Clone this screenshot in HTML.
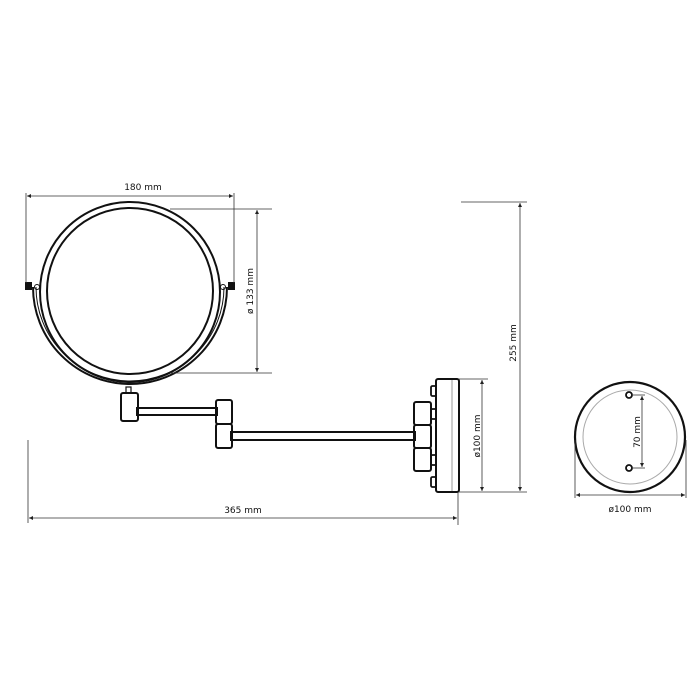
<!DOCTYPE html>
<html><head><meta charset="utf-8"><style>
html,body{margin:0;padding:0;background:#fff;width:700px;height:700px;overflow:hidden}
svg{display:block}
text{font-family:"DejaVu Sans","Liberation Sans",sans-serif;font-size:9px;fill:#111}
</style></head><body>
<svg width="700" height="700" viewBox="0 0 700 700">
<defs>
<marker id="a" viewBox="0 0 6 6" refX="6" refY="3" markerWidth="5" markerHeight="5" orient="auto-start-reverse"><path d="M0,0L6,3L0,6z" fill="#222"/></marker>
</defs>
<g fill="none" stroke="#111">
<!-- mirror -->
<circle cx="130" cy="292" r="90" stroke-width="2"/>
<circle cx="130" cy="291" r="83" stroke-width="2"/>
<path d="M33,287 A97,97 0 0 0 227,287" stroke-width="2"/>
<path d="M36,287 A94,94 0 0 0 224,287" stroke-width="1"/>
<rect x="25" y="282" width="7" height="8" fill="#111" stroke="none"/>
<rect x="228" y="282" width="7" height="8" fill="#111" stroke="none"/>
<circle cx="37" cy="287" r="2.5" stroke-width="1"/>
<circle cx="223" cy="287" r="2.5" stroke-width="1"/>
<!-- arm -->
<rect x="126" y="387" width="5" height="6" stroke-width="1.2"/>
<rect x="121" y="393" width="17" height="28" rx="2" stroke-width="2"/>
<rect x="137" y="408" width="80" height="7" stroke-width="2"/>
<rect x="216" y="400" width="16" height="24" rx="2" stroke-width="2"/>
<rect x="216" y="424" width="16" height="24" rx="2" stroke-width="2"/>
<rect x="231" y="432" width="184" height="8" stroke-width="2"/>
<!-- wall mount -->
<rect x="414" y="402" width="17" height="23" rx="2" stroke-width="2"/>
<rect x="414" y="425" width="17" height="23" rx="2" stroke-width="2"/>
<rect x="414" y="448" width="17" height="23" rx="2" stroke-width="2"/>
<rect x="431" y="386" width="6" height="10" rx="1.5" stroke-width="1.8"/>
<rect x="431" y="409" width="6" height="10" rx="1.5" stroke-width="1.8"/>
<rect x="431" y="455" width="6" height="10" rx="1.5" stroke-width="1.8"/>
<rect x="431" y="477" width="6" height="10" rx="1.5" stroke-width="1.8"/>
<rect x="436" y="379" width="23" height="113" rx="2" stroke-width="2" fill="#fff"/>
<line x1="452" y1="380" x2="452" y2="491" stroke="#999" stroke-width="1"/>
<!-- front view -->
<circle cx="630" cy="437" r="55" stroke-width="2.2"/>
<circle cx="630" cy="437" r="47" stroke="#aaa" stroke-width="1"/>
<circle cx="629" cy="395" r="3" stroke-width="1.8"/>
<circle cx="629" cy="468" r="3" stroke-width="1.8"/>
</g>
<g stroke="#333" stroke-width="0.8" fill="none">
<!-- 180 -->
<line x1="26" y1="193" x2="26" y2="283"/><line x1="234" y1="193" x2="234" y2="283"/>
<line x1="27" y1="196" x2="233" y2="196" marker-start="url(#a)" marker-end="url(#a)"/>
<!-- 133 -->
<line x1="170" y1="209" x2="272" y2="209"/><line x1="170" y1="373" x2="272" y2="373"/>
<line x1="257" y1="210" x2="257" y2="372" marker-start="url(#a)" marker-end="url(#a)"/>
<!-- 255 -->
<line x1="461" y1="202" x2="527" y2="202"/><line x1="488" y1="492" x2="527" y2="492"/>
<line x1="520" y1="203" x2="520" y2="491" marker-start="url(#a)" marker-end="url(#a)"/>
<!-- 100 side -->
<line x1="459" y1="379" x2="488" y2="379"/><line x1="459" y1="492" x2="488" y2="492"/>
<line x1="482" y1="380" x2="482" y2="491" marker-start="url(#a)" marker-end="url(#a)"/>
<!-- 365 -->
<line x1="28" y1="440" x2="28" y2="523"/><line x1="458" y1="492" x2="458" y2="525"/>
<line x1="29" y1="518" x2="457" y2="518" marker-start="url(#a)" marker-end="url(#a)"/>
<!-- 70 -->
<line x1="633" y1="395" x2="645" y2="395"/><line x1="633" y1="468" x2="645" y2="468"/>
<line x1="642" y1="396" x2="642" y2="467" marker-start="url(#a)" marker-end="url(#a)"/>
<!-- 100 front -->
<line x1="575" y1="440" x2="575" y2="498"/><line x1="686" y1="440" x2="686" y2="498"/>
<line x1="576" y1="495" x2="685" y2="495" marker-start="url(#a)" marker-end="url(#a)"/>
</g>
<text x="143" y="190" text-anchor="middle">180 mm</text>
<text transform="translate(253,291) rotate(-90)" text-anchor="middle">ø 133 mm</text>
<text transform="translate(516,343) rotate(-90)" text-anchor="middle">255 mm</text>
<text transform="translate(480,436) rotate(-90)" text-anchor="middle">ø100 mm</text>
<text x="243" y="513" text-anchor="middle">365 mm</text>
<text transform="translate(640,432) rotate(-90)" text-anchor="middle">70 mm</text>
<text x="630" y="512" text-anchor="middle">ø100 mm</text>
</svg>
</body></html>
